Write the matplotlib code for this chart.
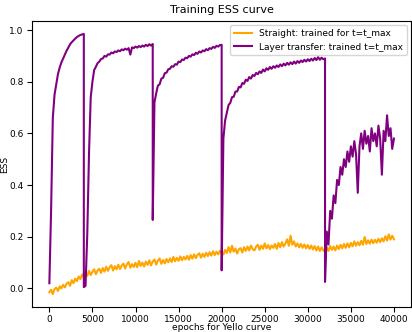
import numpy as np
import matplotlib
matplotlib.use("Agg")
import matplotlib.pyplot as plt

step = 200

# yellow curve: straight training, one value every 200 epochs (0 .. 40000)
straight = [
    -0.015, -0.005, -0.022, -0.002, 0.003, -0.01, 0.008, 0.0, 0.014, 0.004,
    0.018, 0.024, 0.01, 0.032, 0.02, 0.038, 0.028, 0.046, 0.036, 0.054,
    0.043, 0.062, 0.048, 0.068, 0.052, 0.064, 0.074, 0.055, 0.07, 0.076,
    0.06, 0.079, 0.065, 0.084, 0.068, 0.082, 0.09, 0.069, 0.086, 0.074,
    0.092, 0.075, 0.089, 0.096, 0.077, 0.094, 0.102, 0.08, 0.094, 0.083,
    0.099, 0.082, 0.106, 0.087, 0.1, 0.085, 0.104, 0.091, 0.109, 0.089,
    0.104, 0.112, 0.092, 0.108, 0.116, 0.095, 0.11, 0.097, 0.114, 0.101,
    0.116, 0.102, 0.122, 0.105, 0.118, 0.107, 0.124, 0.109, 0.122, 0.112,
    0.126, 0.111, 0.129, 0.115, 0.132, 0.117, 0.13, 0.136, 0.119, 0.134,
    0.122, 0.138, 0.125, 0.14, 0.127, 0.144, 0.129, 0.142, 0.132, 0.146,
    0.135, 0.131, 0.149, 0.137, 0.16, 0.139, 0.165, 0.142, 0.154, 0.135,
    0.152, 0.156, 0.139, 0.16, 0.145, 0.162, 0.147, 0.166, 0.152, 0.147,
    0.162, 0.169, 0.149, 0.166, 0.153, 0.174, 0.155, 0.168, 0.152, 0.166,
    0.157, 0.172, 0.153, 0.176, 0.159, 0.179, 0.162, 0.174, 0.19, 0.165,
    0.204, 0.169, 0.182, 0.162, 0.174, 0.159, 0.172, 0.157, 0.17, 0.155,
    0.168, 0.153, 0.166, 0.151, 0.164, 0.147, 0.162, 0.145, 0.159, 0.147,
    0.143, 0.158, 0.145, 0.164, 0.149, 0.162, 0.147, 0.166, 0.152, 0.169,
    0.155, 0.172, 0.157, 0.174, 0.159, 0.176, 0.163, 0.182, 0.165, 0.179,
    0.167, 0.184, 0.169, 0.199, 0.172, 0.186, 0.173, 0.189, 0.175, 0.188,
    0.177, 0.192, 0.179, 0.194, 0.182, 0.202, 0.185, 0.209, 0.189, 0.204,
    0.19,
]

# purple curve: layer transfer, restarted at these epochs
seg_starts = [0, 4000, 12000, 20000, 32000]
seg1 = [0.02, 0.30, 0.66, 0.75, 0.79, 0.83, 0.855, 0.875, 0.89, 0.905, 0.92,
        0.932, 0.945, 0.953, 0.96, 0.967, 0.973, 0.977, 0.981, 0.983, 0.985]
seg2 = [0.005, 0.01, 0.21, 0.52, 0.74, 0.80, 0.845, 0.858, 0.872, 0.878, 0.888,
        0.89, 0.9, 0.897, 0.906, 0.905, 0.913, 0.91, 0.917, 0.915, 0.921,
        0.918, 0.925, 0.922, 0.928, 0.924, 0.93, 0.905, 0.933, 0.93, 0.936,
        0.932, 0.938, 0.934, 0.94, 0.936, 0.943, 0.938, 0.945, 0.94, 0.946]
seg3 = [0.265, 0.72, 0.755, 0.785, 0.79, 0.812, 0.815, 0.833, 0.835, 0.848, 0.85,
        0.86, 0.858, 0.868, 0.866, 0.878, 0.876, 0.886, 0.884, 0.893, 0.891,
        0.9, 0.897, 0.906, 0.903, 0.912, 0.908, 0.917, 0.913, 0.921, 0.918,
        0.926, 0.922, 0.93, 0.927, 0.935, 0.931, 0.939, 0.936, 0.942, 0.943]
seg4 = [0.07, 0.58, 0.65, 0.68, 0.71, 0.718, 0.74, 0.742, 0.762, 0.762,
        0.78, 0.778, 0.795, 0.792, 0.808, 0.803, 0.818, 0.812, 0.826, 0.822,
        0.834, 0.829, 0.84, 0.834, 0.847, 0.84, 0.852, 0.846, 0.857, 0.85,
        0.86, 0.854, 0.863, 0.857, 0.867, 0.86, 0.87, 0.863, 0.873, 0.866,
        0.875, 0.868, 0.878, 0.87, 0.88, 0.873, 0.882, 0.876, 0.885, 0.878,
        0.887, 0.88, 0.889, 0.882, 0.892, 0.884, 0.895, 0.885, 0.893, 0.887,
        0.89]
seg5 = [0.025, 0.22, 0.17, 0.30, 0.27, 0.36, 0.33, 0.42, 0.40, 0.47, 0.44,
        0.50, 0.47, 0.53, 0.49, 0.55, 0.51, 0.57, 0.52, 0.37, 0.55,
        0.60, 0.54, 0.61, 0.56, 0.59, 0.53, 0.62, 0.57, 0.60, 0.55,
        0.63, 0.58, 0.44, 0.61, 0.57, 0.67, 0.59, 0.62, 0.54, 0.58]
segments = [seg1, seg2, seg3, seg4, seg5]

x_straight = np.arange(len(straight)) * step
x_transfer = np.concatenate([s + np.arange(len(v)) * step for s, v in zip(seg_starts, segments)])
y_transfer = np.concatenate(segments)

fig = plt.figure(figsize=(4.12, 3.32), dpi=100)
ax = fig.add_axes([0.078, 0.075, 0.92, 0.862])
ax.plot(x_straight, straight, color='orange', lw=1.5, label='Straight: trained for t=t_max')
ax.plot(x_transfer, y_transfer, color='purple', lw=1.5, label='Layer transfer: trained t=t_max')
ax.set_title('Training ESS curve', fontsize=8)
ax.set_xlabel('epochs for Yello curve', fontsize=6.5)
ax.set_ylabel('ESS', fontsize=6.5)
ax.xaxis.set_label_coords(0.5, -0.056)
ax.yaxis.set_label_coords(-0.06, 0.5)
ax.set_xticks(range(0, 40001, 5000))
ax.set_yticks([0.0, 0.2, 0.4, 0.6, 0.8, 1.0])
ax.tick_params(labelsize=6.5, pad=2.5)
ax.legend(loc='upper right', fontsize=6.5)
fig.savefig('out.png', dpi=100)
